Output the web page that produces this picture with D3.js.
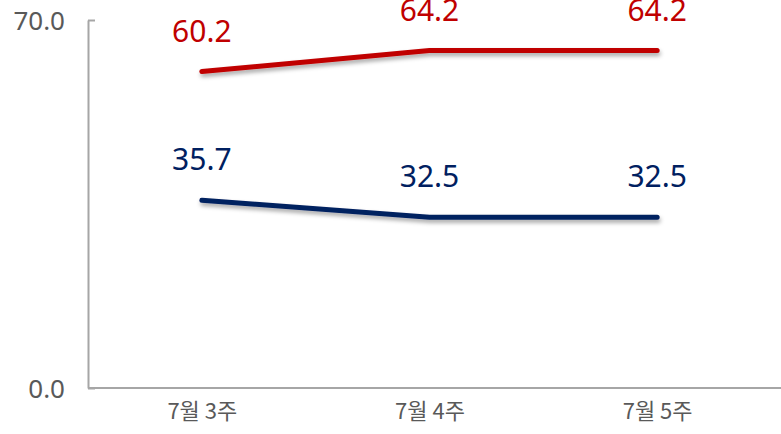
<!DOCTYPE html>
<html><head><meta charset="utf-8">
<script src="https://cdn.jsdelivr.net/npm/d3@7"></script>
<style>body{margin:0;background:#fff}svg{display:block}</style>
</head><body>
<svg id="c" width="781" height="434"></svg>
<script>
const categories = ["7월 3주", "7월 4주", "7월 5주"];
const seriesRed = [60.2, 64.2, 64.2];
const seriesBlue = [35.7, 32.5, 32.5];
const yTicks = [0, 70];

const svg = d3.select("#c");
const W = 781, H = 434;
const x = d3.scalePoint().domain(categories).range([88, 771]).padding(0.5);
const y = d3.scaleLinear().domain([0, 70]).range([388, 20]);

const defs = svg.append("defs");
const f = defs.append("filter").attr("id", "sh").attr("x", "-10%").attr("y", "-100%").attr("width", "120%").attr("height", "400%");
f.append("feDropShadow").attr("dx", 1).attr("dy", 3).attr("stdDeviation", 2).attr("flood-color", "#000").attr("flood-opacity", 0.35);

// Y axis
const ya = svg.append("g").attr("transform", "translate(88,0)")
  .call(d3.axisLeft(y).tickValues(yTicks).tickSize(-7).tickSizeOuter(0).tickPadding(23).tickFormat(d3.format(".1f")));
ya.select(".domain").attr("stroke", "#A6A6A6").attr("stroke-width", 2);
ya.selectAll(".tick line").attr("stroke", "#A6A6A6").attr("stroke-width", 2);
ya.selectAll(".tick text").attr("fill", "#595959").attr("font-family", "'Noto Sans', sans-serif").attr("font-size", 26).attr("dy", "0.35em");

// X axis
const xa = svg.append("g").attr("transform", `translate(0,${y(0)})`)
  .call(d3.axisBottom(x).tickSize(0).tickPadding(15));
xa.select(".domain").remove();
xa.selectAll(".tick text").attr("fill", "#595959").attr("font-family", "'Noto Sans CJK KR', sans-serif").attr("font-size", 22);
svg.append("line").attr("x1", 88).attr("x2", W).attr("y1", y(0)).attr("y2", y(0))
  .attr("stroke", "#A6A6A6").attr("stroke-width", 2);

const line = d3.line().x((d, i) => x(categories[i])).y(d => y(d));
const series = [{v: seriesRed, c: "#C00000"}, {v: seriesBlue, c: "#002060"}];
series.forEach(s => {
  svg.append("path").datum(s.v).attr("d", line).attr("fill", "none")
    .attr("stroke", s.c).attr("stroke-width", 5).attr("stroke-linecap", "round").attr("stroke-linejoin", "round")
    .attr("filter", "url(#sh)");
  svg.append("g").selectAll("text").data(s.v).join("text")
    .attr("x", (d, i) => x(categories[i])).attr("y", d => y(d) - 30)
    .attr("text-anchor", "middle").attr("fill", s.c)
    .attr("font-family", "'Noto Sans', sans-serif").attr("font-size", 30)
    .text(d => d3.format(".1f")(d));
});
</script>
</body></html>
